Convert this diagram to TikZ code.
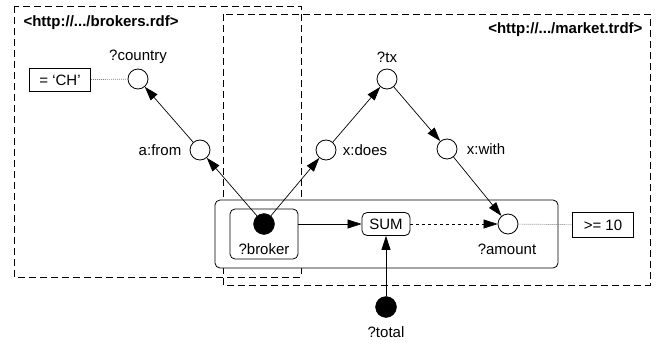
\documentclass[tikz,border=0pt]{standalone}
\usepackage{fontspec}
\setmainfont{Liberation Sans}
\usetikzlibrary{arrows.meta}

\begin{document}
\begin{tikzpicture}[x=1pt, y=-1pt, font=\fontsize{15}{17}\selectfont,
  var/.style={circle, draw, fill=white, minimum size=20pt, inner sep=0pt, line width=0.8pt},
  bound/.style={circle, draw, fill=black, minimum size=21pt, inner sep=0pt},
  filterbox/.style={draw, fill=white, minimum width=61pt, minimum height=23pt, inner sep=0pt, line width=0.8pt},
  roundbox/.style={draw, fill=white, rounded corners=5pt, inner sep=0pt, line width=0.8pt},
  graphbox/.style={draw, line width=0.8pt, dash pattern=on 7pt off 4pt},
  edge/.style={-{Triangle[length=14pt, width=9pt]}, line width=0.7pt},
  filterline/.style={gray, line width=0.7pt, dash pattern=on 1pt off 1pt}]
  \useasboundingbox (0,0) rectangle (664,345);

  % Draw the two named graphs
  \draw[graphbox] (14,6) rectangle (301,277);
  \draw[graphbox] (223,14) rectangle (650,285);
  \node[anchor=west, font=\fontsize{15}{17}\selectfont\bfseries] (brokersname) at (20,23) {<http://.../brokers.rdf>};
  \node[anchor=east, font=\fontsize{15}{17}\selectfont\bfseries] (marketname) at (646,30) {<http://.../market.trdf>};

  % Draw the aggregation group
  \node[roundbox, minimum width=343pt, minimum height=68pt] (group) at (386.5,234) {};
  \node[roundbox, minimum width=68pt, minimum height=50pt] (brokerbox) at (264,234) {};
  \node[bound] (broker) at (264,224) {};
  \node (brokerlabel) at (264,249) {?broker};
  \node[roundbox, minimum width=48pt, minimum height=23pt] (sum) at (386,224) {SUM};
  \node[var] (amount) at (508,224) {};
  \node (amountlabel) at (507,249) {?amount};

  % Draw the variables
  \node[var] (country) at (138,79) {};
  \node (countrylabel) at (138,57) {?country};
  \node[var] (from) at (200,150) {};
  \node (fromlabel) at (160,150) {a:from};
  \node[var] (does) at (326,150) {};
  \node (doeslabel) at (365,150) {x:does};
  \node[var] (tx) at (387,79) {};
  \node (txlabel) at (387,57) {?tx};
  \node[var] (with) at (447,149) {};
  \node (withlabel) at (486,149) {x:with};
  \node[bound] (total) at (386,307) {};
  \node (totallabel) at (386,332) {?total};

  % Draw the filters
  \node[filterbox] (ch) at (60,80) {= `CH'};
  \node[filterbox, minimum height=25pt] (atleast) at (603,225) {>= 10};
  \draw[filterline] (ch) -- (country);
  \draw[filterline] (amount) -- (atleast);

  % Draw the edges
  \draw[edge] (broker) -- (from);
  \draw[edge] (from) -- (country);
  \draw[edge] (broker) -- (does);
  \draw[edge] (does) -- (tx);
  \draw[edge] (tx) -- (with);
  \draw[edge] (with) -- (amount);
  \draw[edge] (brokerbox.east |- sum) -- (sum);
  \draw[edge, dashed] (sum) -- (amount);
  \draw[edge] (total) -- (sum);
\end{tikzpicture}
\end{document}
